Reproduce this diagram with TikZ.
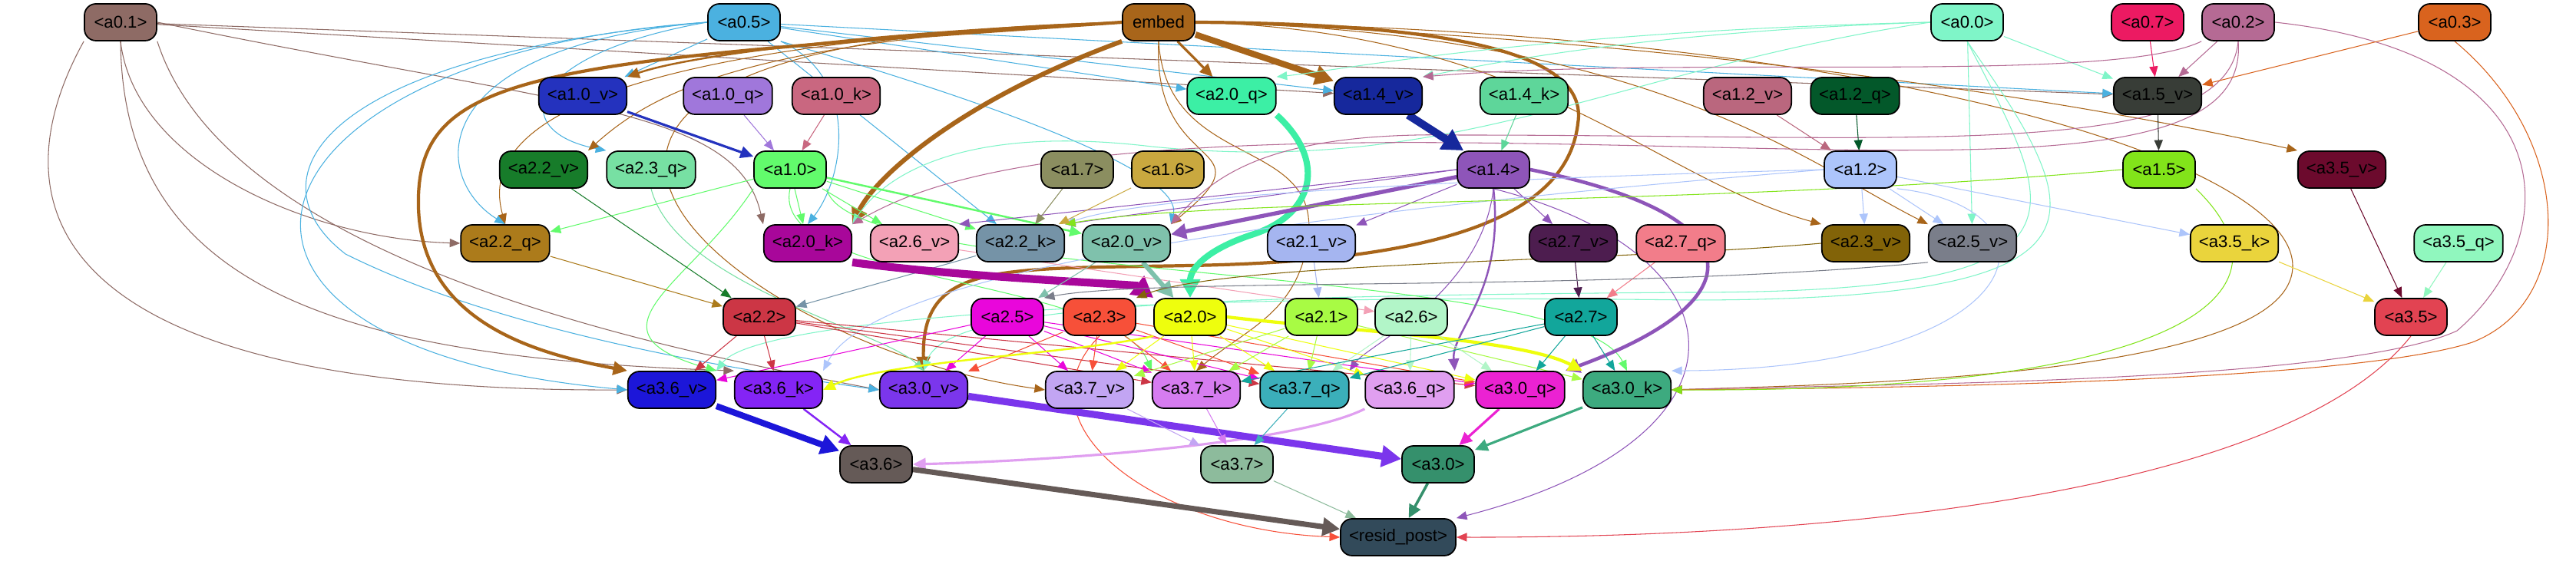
\documentclass[tikz,border=0pt]{standalone}
\usepackage{fontspec}
\setmainfont{Liberation Sans}
\usetikzlibrary{arrows.meta, backgrounds}
\definecolor{ca01}{HTML}{8E6B65}
\definecolor{ca05}{HTML}{4BB1E0}
\definecolor{cembed}{HTML}{A8651A}
\definecolor{ca00}{HTML}{7FF5C8}
\definecolor{ca07}{HTML}{EC1A62}
\definecolor{ca02}{HTML}{B56A94}
\definecolor{ca03}{HTML}{D9631E}
\definecolor{ca10v}{HTML}{2432BE}
\definecolor{ca10q}{HTML}{A077DB}
\definecolor{ca10k}{HTML}{C96780}
\definecolor{ca20q}{HTML}{3CEFA5}
\definecolor{ca14v}{HTML}{16289C}
\definecolor{ca14k}{HTML}{5ED69A}
\definecolor{ca12v}{HTML}{BA677E}
\definecolor{ca12q}{HTML}{03582A}
\definecolor{ca15v}{HTML}{383D37}
\definecolor{ca22v}{HTML}{177C2A}
\definecolor{ca23q}{HTML}{77E0A3}
\definecolor{ca10}{HTML}{62FB6C}
\definecolor{ca17}{HTML}{8B8E60}
\definecolor{ca16}{HTML}{C9A83F}
\definecolor{ca14}{HTML}{8E55B9}
\definecolor{ca12}{HTML}{ADC5FB}
\definecolor{ca15}{HTML}{82E41A}
\definecolor{ca35v}{HTML}{6C0A2D}
\definecolor{ca22q}{HTML}{AC7B1B}
\definecolor{ca20k}{HTML}{A8079A}
\definecolor{ca26v}{HTML}{F3A1B6}
\definecolor{ca22k}{HTML}{7593A7}
\definecolor{ca20v}{HTML}{7FC1AC}
\definecolor{ca21v}{HTML}{A5B5F0}
\definecolor{ca27v}{HTML}{4D1D4F}
\definecolor{ca27q}{HTML}{F27D8A}
\definecolor{ca23v}{HTML}{826308}
\definecolor{ca25v}{HTML}{7A7E8A}
\definecolor{ca35k}{HTML}{EAD43C}
\definecolor{ca35q}{HTML}{90F7BE}
\definecolor{ca22}{HTML}{CC3645}
\definecolor{ca25}{HTML}{E906DB}
\definecolor{ca23}{HTML}{F75039}
\definecolor{ca20}{HTML}{EEFE0D}
\definecolor{ca21}{HTML}{A8FB44}
\definecolor{ca26}{HTML}{B2F5C8}
\definecolor{ca27}{HTML}{12A69B}
\definecolor{ca35}{HTML}{E24352}
\definecolor{ca36v}{HTML}{1C16D9}
\definecolor{ca36k}{HTML}{8424F5}
\definecolor{ca30v}{HTML}{7B36EC}
\definecolor{ca37v}{HTML}{C2A5F3}
\definecolor{ca37k}{HTML}{D67CF0}
\definecolor{ca37q}{HTML}{3BAFBA}
\definecolor{ca36q}{HTML}{E09FF0}
\definecolor{ca30q}{HTML}{EB22D2}
\definecolor{ca30k}{HTML}{3DAA7F}
\definecolor{ca36}{HTML}{655A57}
\definecolor{ca37}{HTML}{8DBB9C}
\definecolor{ca30}{HTML}{35906C}
\definecolor{cresid}{HTML}{324A5A}
\tikzset{
  unit/.style={
    rectangle,
    rounded corners=0.15cm,
    draw=black,
    line width=0.5pt,
    minimum height=0.48cm,
    minimum width=0.94cm,
    inner xsep=0.11cm,
    inner ysep=0pt,
    font=\fontsize{6.3}{7}\selectfont
  },
  wire/.style={-{Triangle[length=0.12cm 1.5, width=0.09cm 2]}, line width=0.3pt}
}

\begin{document}
\begin{tikzpicture}
\useasboundingbox (0,0) rectangle (33.55,7.31);

% Inputs.
\node[unit, fill=ca01] (a01) at (1.57,7.02) {<a0.1>};
\node[unit, fill=ca05] (a05) at (9.69,7.02) {<a0.5>};
\node[unit, fill=cembed] (embed) at (15.09,7.02) {embed};
\node[unit, fill=ca00] (a00) at (25.62,7.02) {<a0.0>};
\node[unit, fill=ca07] (a07) at (27.97,7.02) {<a0.7>};
\node[unit, fill=ca02] (a02) at (29.15,7.02) {<a0.2>};
\node[unit, fill=ca03] (a03) at (31.97,7.02) {<a0.3>};

% Layer 1 heads.
\node[unit, fill=ca10v] (a10v) at (7.59,6.06) {<a1.0\_v>};
\node[unit, fill=ca10q] (a10q) at (9.48,6.06) {<a1.0\_q>};
\node[unit, fill=ca10k] (a10k) at (10.89,6.06) {<a1.0\_k>};
\node[unit, fill=ca20q] (a20q) at (16.04,6.06) {<a2.0\_q>};
\node[unit, fill=ca14v] (a14v) at (17.95,6.06) {<a1.4\_v>};
\node[unit, fill=ca14k] (a14k) at (19.85,6.06) {<a1.4\_k>};
\node[unit, fill=ca12v] (a12v) at (22.76,6.06) {<a1.2\_v>};
\node[unit, fill=ca12q] (a12q) at (24.16,6.06) {<a1.2\_q>};
\node[unit, fill=ca15v] (a15v) at (28.10,6.06) {<a1.5\_v>};

\node[unit, fill=ca22v] (a22v) at (7.08,5.10) {<a2.2\_v>};
\node[unit, fill=ca23q] (a23q) at (8.48,5.10) {<a2.3\_q>};
\node[unit, fill=ca10] (a10) at (10.29,5.10) {<a1.0>};
\node[unit, fill=ca17] (a17) at (14.03,5.10) {<a1.7>};
\node[unit, fill=ca16] (a16) at (15.21,5.10) {<a1.6>};
\node[unit, fill=ca14] (a14) at (19.45,5.10) {<a1.4>};
\node[unit, fill=ca12] (a12) at (24.23,5.10) {<a1.2>};
\node[unit, fill=ca15] (a15) at (28.12,5.10) {<a1.5>};
\node[unit, fill=ca35v] (a35v) at (30.50,5.10) {<a3.5\_v>};

% Layer 2 heads.
\node[unit, fill=ca22q] (a22q) at (6.58,4.14) {<a2.2\_q>};
\node[unit, fill=ca20k] (a20k) at (10.52,4.14) {<a2.0\_k>};
\node[unit, fill=ca26v] (a26v) at (11.91,4.14) {<a2.6\_v>};
\node[unit, fill=ca22k] (a22k) at (13.29,4.14) {<a2.2\_k>};
\node[unit, fill=ca20v] (a20v) at (14.67,4.14) {<a2.0\_v>};
\node[unit, fill=ca21v] (a21v) at (17.08,4.14) {<a2.1\_v>};
\node[unit, fill=ca27v] (a27v) at (20.49,4.14) {<a2.7\_v>};
\node[unit, fill=ca27q] (a27q) at (21.89,4.14) {<a2.7\_q>};
\node[unit, fill=ca23v] (a23v) at (24.30,4.14) {<a2.3\_v>};
\node[unit, fill=ca25v] (a25v) at (25.69,4.14) {<a2.5\_v>};
\node[unit, fill=ca35k] (a35k) at (29.10,4.14) {<a3.5\_k>};
\node[unit, fill=ca35q] (a35q) at (32.02,4.14) {<a3.5\_q>};

\node[unit, fill=ca22] (a22) at (9.89,3.18) {<a2.2>};
\node[unit, fill=ca25] (a25) at (13.12,3.18) {<a2.5>};
\node[unit, fill=ca23] (a23) at (14.32,3.18) {<a2.3>};
\node[unit, fill=ca20] (a20) at (15.50,3.18) {<a2.0>};
\node[unit, fill=ca21] (a21) at (17.21,3.18) {<a2.1>};
\node[unit, fill=ca26] (a26) at (18.38,3.18) {<a2.6>};
\node[unit, fill=ca27] (a27) at (20.59,3.18) {<a2.7>};
\node[unit, fill=ca35] (a35) at (31.40,3.18) {<a3.5>};

% Layer 3 heads.
\node[unit, fill=ca36v] (a36v) at (8.75,2.23) {<a3.6\_v>};
\node[unit, fill=ca36k] (a36k) at (10.14,2.23) {<a3.6\_k>};
\node[unit, fill=ca30v] (a30v) at (12.03,2.23) {<a3.0\_v>};
\node[unit, fill=ca37v] (a37v) at (14.19,2.23) {<a3.7\_v>};
\node[unit, fill=ca37k] (a37k) at (15.58,2.23) {<a3.7\_k>};
\node[unit, fill=ca37q] (a37q) at (16.99,2.23) {<a3.7\_q>};
\node[unit, fill=ca36q] (a36q) at (18.36,2.23) {<a3.6\_q>};
\node[unit, fill=ca30q] (a30q) at (19.80,2.23) {<a3.0\_q>};
\node[unit, fill=ca30k] (a30k) at (21.19,2.23) {<a3.0\_k>};

\node[unit, fill=ca36] (a36) at (11.41,1.26) {<a3.6>};
\node[unit, fill=ca37] (a37) at (16.11,1.26) {<a3.7>};
\node[unit, fill=ca30] (a30) at (18.73,1.26) {<a3.0>};

% Output.
\node[unit, fill=cresid] (resid) at (18.21,0.31) {<resid\_post>};

\begin{scope}[on background layer]
\fill[white] (0,0) rectangle (33.55,7.31);

% From the inputs.
\foreach \t in {a15v,a14v} \draw[wire, ca01] (a01) -- (\t);
\draw[wire, ca01] (a01.south) .. controls (1.75,5.2) and (4.0,4.2) .. (a22q.west);
\draw[wire, ca01] (a01.east) .. controls (7.5,5.9) and (9.6,5.9) .. (a20k.north west);
\draw[wire, ca01] (a01.south west) .. controls (0.0,4.8) and (0.3,2.2) .. (a36v.west);
\draw[wire, ca01] (a01.south) .. controls (1.6,3.5) and (4.5,2.65) .. (a36k.north west);
\draw[wire, ca01] (a01.south east) .. controls (3.0,3.8) and (9.0,2.7) .. (a30v.west);

\foreach \t in {a10v,a20q,a14v,a15v,a22k} \draw[wire, ca05] (a05) -- (\t);
\draw[wire, ca05] (a05.west) .. controls (6.8,6.6) and (6.6,5.6) .. (a23q.north west);
\draw[wire, ca05] (a05.west) .. controls (5.5,6.7) and (5.6,5.0) .. (a22q.north);
\draw[wire, ca05] (a05.south east) .. controls (13.5,5.8) and (15.4,5.0) .. (a20v.north east);
\draw[wire, ca05] (a05.south east) .. controls (11.2,6.3) and (11.0,5.0) .. (a20k.north);
\draw[wire, ca05] (a05.west) .. controls (3.0,6.6) and (1.8,2.8) .. (a36v.west);
\draw[wire, ca05] (a05.west) .. controls (4.2,6.6) and (3.2,5.0) .. (4.5,4.0) .. controls (6.5,3.0) and (9.5,2.5) .. (a30v.west);

\draw[wire, line width=2.3pt, cembed] (embed) -- (a14v);
\draw[wire, line width=0.9pt, cembed] (embed) -- (a20q);
\draw[wire, line width=1.7pt, cembed] (embed.south west) .. controls (12.5,6.0) and (11.4,5.0) .. (a20k.north east);
\draw[wire, line width=1.2pt, cembed] (embed.west) .. controls (7.0,6.5) and (5.4,6.4) .. (5.45,4.6) .. controls (5.5,3.1) and (7.0,2.7) .. (a36v.north west);
\draw[wire, line width=0.7pt, cembed] (embed.west) .. controls (11.5,6.9) and (9.0,6.6) .. (a10v.north east);
\draw[wire, line width=1.2pt, cembed] (embed.east) .. controls (19.0,7.0) and (20.7,6.6) .. (20.55,5.7) .. controls (20.4,4.4) and (18.5,3.9) .. (15.5,3.85) .. controls (13.0,3.8) and (12.0,3.9) .. (a30v.north);
\draw[wire, cembed] (embed.west) .. controls (10.0,6.8) and (8.6,6.2) .. (a22v.north east);
\draw[wire, cembed] (embed.west) .. controls (7.0,6.7) and (6.3,5.4) .. (a22q.north);
\draw[wire, cembed] (embed.west) .. controls (4.5,6.8) and (9.5,2.8) .. (a37v.west);
\draw[wire, cembed] (embed.south) .. controls (15.2,5.0) and (17.4,5.6) .. (17.0,4.0) .. controls (16.8,3.2) and (16.2,3.0) .. (a37k.north);
\draw[wire, cembed] (embed.south) .. controls (15.0,5.0) and (16.6,5.5) .. (a20v.north east);
\draw[wire, cembed] (embed.east) .. controls (20.0,6.9) and (21.5,5.0) .. (a23v.north west);
\draw[wire, cembed] (embed.east) .. controls (21.5,6.9) and (23.5,5.2) .. (a25v.north west);
\draw[wire, cembed] (embed.east) .. controls (22.0,6.8) and (27.0,6.0) .. (a35v.north west);
\draw[wire, cembed] (embed.east) .. controls (25.0,6.9) and (30.5,5.0) .. (29.8,3.6) .. controls (29.2,2.4) and (24.0,2.3) .. (a30k.east);

\foreach \t in {a15v,a25v} \draw[wire, ca00] (a00) -- (\t);
\draw[wire, ca00] (a00.west) .. controls (21.5,6.9) and (19.5,6.5) .. (a14v.north east);
\draw[wire, ca00] (a00.west) .. controls (20.0,6.9) and (17.5,6.4) .. (a20q.north east);
\draw[wire, ca00] (a00.west) .. controls (21.0,6.4) and (19.0,5.0) .. (15.0,5.4) .. controls (12.5,5.7) and (11.5,5.0) .. (a20k.north east);
\draw[wire, ca00] (a00.south) .. controls (26.8,4.5) and (27.5,3.5) .. (22.0,3.5) .. controls (15.0,3.45) and (12.3,3.3) .. (a30v.north);
\draw[wire, ca00] (a00.south) .. controls (27.2,4.5) and (27.8,3.4) .. (22.0,3.4) .. controls (14.0,3.5) and (9.8,3.1) .. (a36v.north east);

\draw[wire, ca07] (a07) -- (a15v);

\draw[wire, ca02] (a02) -- (a15v);
\draw[wire, ca02] (a02.south west) .. controls (27.5,6.2) and (22.0,6.6) .. (a14v.north east);
\draw[wire, ca02] (a02.south) .. controls (29.3,4.9) and (25.0,5.4) .. (19.0,5.45) .. controls (13.5,5.5) and (12.0,4.9) .. (a20k.north east);
\draw[wire, ca02] (a02.south) .. controls (29.0,5.2) and (25.0,5.55) .. (19.0,5.55) .. controls (16.5,5.6) and (15.8,5.0) .. (a20v.north east);
\draw[wire, ca02] (a02.east) .. controls (33.5,6.6) and (33.4,4.2) .. (32.0,3.0) .. controls (30.5,2.3) and (24.0,2.3) .. (a30k.east);

\draw[wire, ca03] (a03) -- (a15v);
\draw[wire, ca03] (a03.south) .. controls (33.5,5.5) and (33.6,3.4) .. (32.2,2.85) .. controls (30.5,2.3) and (24.0,2.25) .. (a30k.east);

% Layer 1.
\draw[wire, line width=0.9pt, ca10v] (a10v) -- (a10);
\draw[wire, ca10q] (a10q) -- (a10);
\draw[wire, ca10k] (a10k) -- (a10);
\draw[wire, line width=2.9pt, ca14v] (a14v) -- (a14);
\draw[wire, ca14k] (a14k) -- (a14);
\draw[wire, line width=2.3pt, ca20q] (a20q.south east) .. controls (17.3,5.2) and (17.1,4.5) .. (16.3,4.25) .. controls (15.7,4.05) and (15.5,3.8) .. (a20.north);
\draw[wire, ca12v] (a12v) -- (a12);
\draw[wire, ca12q] (a12q) -- (a12);
\draw[wire, ca15v] (a15v) -- (a15);

\foreach \t in {a22q,a20k,a26v,a22k} \draw[wire, ca10] (a10) -- (\t);
\draw[wire, line width=0.7pt, ca10] (a10) -- (a20v);
\draw[wire, ca10] (a10.south west) .. controls (9.0,3.6) and (7.5,3.0) .. (a36v.north east);
\draw[wire, ca10] (a10.south) .. controls (10.0,3.6) and (14.5,3.7) .. (a37k.north west);
\draw[wire, ca10] (a10.south east) .. controls (11.0,3.6) and (20.5,3.9) .. (a30k.north);

\draw[wire, line width=1.5pt, ca14] (a14) -- (a20v);
\foreach \t in {a21v,a27v} \draw[wire, ca14] (a14) -- (\t);
\draw[wire, ca14] (a14.west) -- (a22k.north east);
\draw[wire, ca14] (a14.west) -- (a26v.north east);
\draw[wire, line width=0.7pt, ca14] (a14.south) .. controls (19.6,3.5) and (18.9,3.0) .. (a36q.north east);
\draw[wire, line width=1.3pt, ca14] (a14.east) .. controls (22.9,4.5) and (22.9,3.4) .. (a30q.north east);
\draw[wire, ca14] (a14.south) .. controls (19.3,3.5) and (17.8,2.8) .. (a37q.north east);
\draw[wire, ca14] (a14.south) .. controls (22.8,4.0) and (23.0,1.6) .. (resid.north east);

\foreach \t in {a23v,a25v,a35k} \draw[wire, ca12] (a12) -- (\t);
\draw[wire, ca12] (a12.south east) .. controls (27.0,4.6) and (26.5,2.5) .. (a30k.north east);
\draw[wire, ca12] (a12.west) .. controls (19.0,4.7) and (11.5,4.0) .. (a36k.north east);
\draw[wire, ca12] (a12.west) .. controls (20.0,5.0) and (15.0,4.8) .. (a22k.north east);

\draw[wire, ca15] (a15.west) .. controls (22.0,4.6) and (16.0,4.75) .. (a22k.north east);
\draw[wire, ca15] (a15.south east) .. controls (30.0,3.5) and (28.5,2.2) .. (a30k.east);

\draw[wire, ca17] (a17) -- (a22k);
\draw[wire, ca16] (a16) -- (a22k);
\draw[wire, ca35v] (a35v) -- (a35);

% Layer 2.
\draw[wire, ca22v] (a22v) -- (a22);
\draw[wire, ca22q] (a22q) -- (a22);
\draw[wire, ca22k] (a22k) -- (a22);
\draw[wire, ca23q] (a23q.south) .. controls (8.8,3.6) and (11.5,3.0) .. (a30v.north);
\draw[wire, line width=2.9pt, ca20k] (a20k.south east) .. controls (12.5,3.7) and (14.8,3.6) .. (a20.north west);
\draw[wire, ca26v] (a26v) -- (a26);
\draw[wire, line width=1.7pt, ca20v] (a20v) -- (a20);
\draw[wire, ca20v] (a20v) -- (a25);
\draw[wire, ca21v] (a21v) -- (a21);
\draw[wire, ca27v] (a27v) -- (a27);
\draw[wire, ca27q] (a27q) -- (a27);
\draw[wire, ca23v] (a23v.west) .. controls (21.0,3.9) and (16.0,3.9) .. (a23.north east);
\draw[wire, ca25v] (a25v.south west) .. controls (21.0,3.5) and (15.0,3.7) .. (a25.north east);
\draw[wire, ca35k] (a35k) -- (a35);
\draw[wire, ca35q] (a35q) -- (a35);

\foreach \t in {a36v,a36k,a37k,a37q,a30q} \draw[wire, ca22] (a22) -- (\t);
\foreach \t in {a36v,a30v,a37v,a37k,a37q,a30q} \draw[wire, ca25] (a25) -- (\t);
\foreach \t in {a30v,a37v,a37k,a37q,a30q} \draw[wire, ca23] (a23) -- (\t);
\draw[wire, ca23] (a23.south) .. controls (13.2,1.8) and (15.0,0.4) .. (resid.west);
\foreach \t in {a37v,a37k,a37q,a30q,a36q} \draw[wire, ca20] (a20) -- (\t);
\draw[wire, line width=0.7pt, ca20] (a20.south west) .. controls (14.0,2.7) and (11.5,2.6) .. (a36k.east);
\draw[wire, line width=1.2pt, ca20] (a20.east) .. controls (17.5,3.0) and (19.8,2.9) .. (a30k.north west);
\foreach \t in {a37v,a37k,a37q,a30k} \draw[wire, ca21] (a21) -- (\t);
\foreach \t in {a37q,a36q,a30q} \draw[wire, ca26] (a26) -- (\t);
\foreach \t in {a37k,a37q,a30q,a30k} \draw[wire, ca27] (a27) -- (\t);

% Layer 3.
\draw[wire, line width=2.3pt, ca36v] (a36v) -- (a36);
\draw[wire, line width=0.7pt, ca36k] (a36k) -- (a36);
\draw[wire, line width=0.9pt, ca36q] (a36q.south west) .. controls (16.8,1.5) and (13.5,1.3) .. (a36.east);
\draw[wire, line width=2.6pt, ca30v] (a30v) -- (a30);
\draw[wire, line width=0.9pt, ca30q] (a30q) -- (a30);
\draw[wire, line width=0.9pt, ca30k] (a30k) -- (a30);
\draw[wire, ca37v] (a37v) -- (a37);
\draw[wire, ca37k] (a37k) -- (a37);
\draw[wire, ca37q] (a37q) -- (a37);

% Into the output.
\draw[wire, line width=2.0pt, ca36] (a36) -- (resid);
\draw[wire, line width=1.0pt, ca30] (a30) -- (resid);
\draw[wire, ca37] (a37) -- (resid);
\draw[wire, ca35] (a35.south) .. controls (29.8,0.9) and (24.0,0.3) .. (resid.east);
\end{scope}

\end{tikzpicture}
\end{document}
